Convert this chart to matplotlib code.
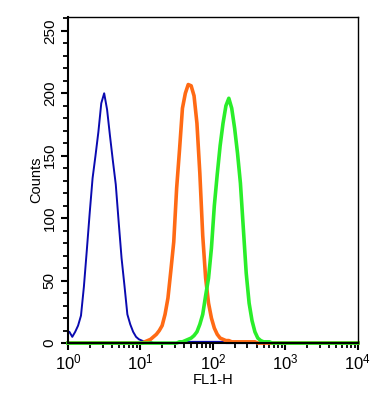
import numpy as np
import matplotlib
matplotlib.use("Agg")
import matplotlib.pyplot as plt
from matplotlib.ticker import FixedLocator, LogLocator, NullFormatter

plt.rcParams['font.family'] = ['Liberation Sans', 'DejaVu Sans']
plt.rcParams['mathtext.fontset'] = 'custom'
plt.rcParams['mathtext.rm'] = 'Liberation Sans'
plt.rcParams['mathtext.it'] = 'Liberation Sans:italic'
plt.rcParams['mathtext.bf'] = 'Liberation Sans:bold'

# histogram channels: 100 bins over 4 decades (log10 of FL1-H)
n_bins = 100
log_edges = np.linspace(0, 4, n_bins + 1)

# counts, bin i covers log10 [0.04*i, 0.04*(i+1))
blue_counts = [
    9, 5, 9, 14, 22, 45, 74, 104, 132, 150,
    169, 192, 200, 187, 166, 146, 127, 97, 68, 46,
    23, 15, 9, 5, 3, 2, 1, 1, 1, 0,
    0, 0, 0, 0, 0, 0, 0, 0, 0, 0,
    1, 1, 1, 1, 1, 1, 1, 1, 1, 1,
    1, 1, 1, 1, 0, 0, 0, 0, 0, 0,
] + [0] * 40

orange_counts = [0] * 25 + [
    0, 1, 2, 3, 5, 7, 10, 14, 23, 36,
    58, 81, 124, 155, 188, 200, 207, 206, 198, 176,
    136, 86, 52, 32, 20, 12, 7, 4, 3, 2,
    2, 1, 1, 1, 1, 1, 1, 1, 1, 1,
] + [0] * 35

green_counts = [0] * 38 + [
    1, 1, 2, 3, 4, 6, 9, 15, 23, 38,
    52, 76, 110, 135, 158, 176, 190, 196, 188, 172,
    152, 128, 92, 56, 32, 18, 9, 4, 2, 1,
    1, 1,
] + [0] * 30

log_centers = (log_edges[:-1] + log_edges[1:]) / 2
# run each trace out to the axis ends so the baseline spans the plot
x_line = 10 ** np.r_[log_edges[0], log_centers, log_edges[-1]]


def trace(counts):
    return np.r_[counts[0], counts, counts[-1]]


fig = plt.figure(figsize=(3.86, 3.93), dpi=100)
ax = fig.add_axes([0.176, 0.127, 0.751, 0.8295])

ax.plot(x_line, trace(blue_counts), color='#0a0ab0', linewidth=1.4, clip_on=False)
ax.plot(x_line, trace(orange_counts), color='#ff6a14', linewidth=2.6, clip_on=False)
ax.plot(x_line, trace(green_counts), color='#2aee2a', linewidth=2.6, clip_on=False)

ax.set_xscale('log')
ax.set_xlim(1, 1e4)
ax.set_ylim(0, 261)

ax.yaxis.set_major_locator(FixedLocator([0, 50, 100, 150, 200, 250]))
ax.yaxis.set_minor_locator(FixedLocator(np.arange(0, 261, 10)))
ax.xaxis.set_major_locator(LogLocator(base=10, numticks=10))
ax.xaxis.set_minor_locator(LogLocator(base=10, subs=np.arange(2, 10), numticks=20))
ax.xaxis.set_minor_formatter(NullFormatter())

for lbl in ax.get_yticklabels():
    lbl.set_rotation(90)
    lbl.set_va('center')

ax.tick_params(axis='both', which='major', direction='out', length=5, width=1.5,
               colors='black')
ax.tick_params(axis='y', which='major', labelsize=11, pad=3)
ax.tick_params(axis='x', which='major', labelsize=12, pad=2)
ax.tick_params(axis='both', which='minor', direction='out', length=3.5, width=1.3)

for s in ['left', 'bottom']:
    ax.spines[s].set_linewidth(1.5)
for s in ['top', 'right']:
    ax.spines[s].set_linewidth(1.0)

ax.set_xlabel('FL1-H', fontsize=10.5, labelpad=0)
ax.set_ylabel('Counts', fontsize=10.5, labelpad=0)

fig.savefig('out.png', dpi=100)
